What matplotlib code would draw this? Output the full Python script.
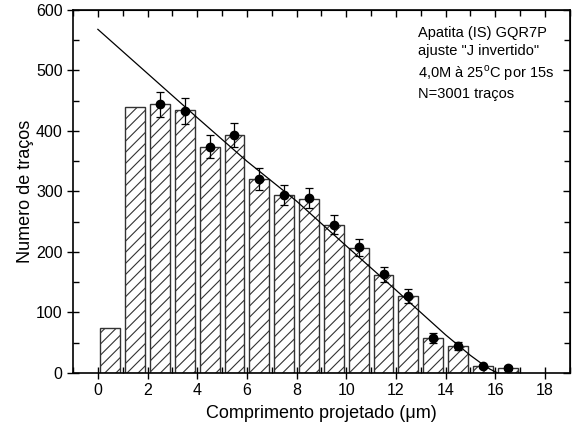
import matplotlib
matplotlib.use("Agg")
import matplotlib.pyplot as plt
from matplotlib.ticker import MultipleLocator

plt.rcParams["font.family"] = ["Liberation Sans", "DejaVu Sans"]
plt.rcParams["mathtext.fontset"] = "custom"
plt.rcParams["mathtext.rm"] = "Liberation Sans"
plt.rcParams["hatch.linewidth"] = 0.8

# histogram of projected lengths (bin centres, counts)
bin_centers = [0.5, 1.5, 2.5, 3.5, 4.5, 5.5, 6.5, 7.5, 8.5, 9.5, 10.5,
               11.5, 12.5, 13.5, 14.5, 15.5, 16.5]
counts = [75, 440, 444, 434, 374, 394, 320, 294, 288, 245, 207,
          162, 127, 58, 45, 11, 8]

# points with poisson error bars
pt_x = [2.5, 3.5, 4.5, 5.5, 6.5, 7.5, 8.5, 9.5, 10.5, 11.5, 12.5,
        13.5, 14.5, 15.5, 16.5]
pt_y = [444, 433, 374, 394, 321, 294, 289, 245, 208, 163, 127,
        58, 45, 11, 8]
pt_err = [21, 21, 19, 20, 18, 17, 17, 16, 14, 13, 11, 8, 7, 3, 3]

# "J invertido" fit
fit_x = [0, 2, 4, 6, 8, 10, 12, 13, 14, 14.5, 15, 15.5, 15.8, 16.1]
fit_y = [568, 495, 422, 350, 284, 210, 137, 100, 63, 46, 29, 14, 6, 0]

fig = plt.figure(figsize=(5.75, 4.34), dpi=100)
ax = fig.add_axes([0.127, 0.1406, 0.864, 0.8364])

ax.bar(bin_centers, counts, width=0.8, color="white", edgecolor="#333333",
       hatch="///", linewidth=1.0, zorder=2)
ax.plot(fit_x, fit_y, color="black", linewidth=0.9, zorder=3)
ax.errorbar(pt_x, pt_y, yerr=pt_err, fmt="o", color="black", markersize=6,
            elinewidth=0.9, capsize=3, capthick=0.9, zorder=4)

ax.set_xlim(-1, 19)
ax.set_ylim(0, 600)
ax.xaxis.set_major_locator(MultipleLocator(2))
ax.xaxis.set_minor_locator(MultipleLocator(1))
ax.yaxis.set_major_locator(MultipleLocator(100))
ax.yaxis.set_minor_locator(MultipleLocator(50))
ax.tick_params(which="major", direction="inout", length=8, width=1,
               labelsize=11.5, top=False, right=False)
ax.tick_params(which="minor", direction="in", length=4, width=1,
               top=False, right=False)

# mirrored inward ticks on top and right
ax2 = ax.secondary_xaxis("top")
ax2.xaxis.set_major_locator(MultipleLocator(2))
ax2.xaxis.set_minor_locator(MultipleLocator(1))
ax2.tick_params(which="major", direction="in", length=5, width=1)
ax2.tick_params(which="minor", direction="in", length=4, width=1)
ax2.set_xticklabels([])
ax3 = ax.secondary_yaxis("right")
ax3.yaxis.set_major_locator(MultipleLocator(100))
ax3.yaxis.set_minor_locator(MultipleLocator(50))
ax3.tick_params(which="major", direction="in", length=5, width=1)
ax3.tick_params(which="minor", direction="in", length=4, width=1)
ax3.set_yticklabels([])

for sp in ax.spines.values():
    sp.set_linewidth(1.2)

ax.set_xlabel("Comprimento projetado (\u03bcm)", fontsize=13, labelpad=5)
ax.set_ylabel("Numero de traços", fontsize=13, labelpad=1)

ax.text(0.694, 0.955,
        "Apatita (IS) GQR7P\n"
        "ajuste \"J invertido\"\n"
        "4,0M à 25$^{\\mathrm{o}}$C por 15s\n"
        "N=3001 traços",
        transform=ax.transAxes, fontsize=10.5, va="top", ha="left",
        linespacing=1.35)

fig.savefig("out.png", dpi=100)
